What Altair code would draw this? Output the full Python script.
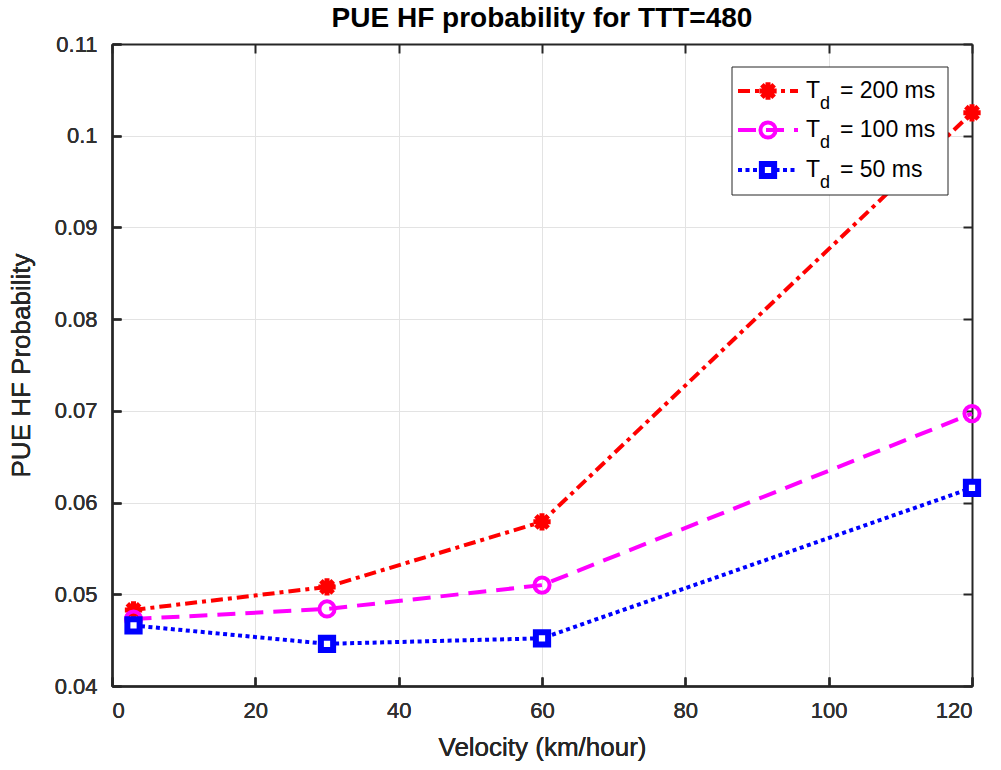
import altair as alt
import pandas as pd

# ---- data ----
velocity = [3, 30, 60, 120]
td200 = [0.0483, 0.0508, 0.0579, 0.1025]
td100 = [0.0473, 0.0484, 0.0510, 0.0697]
td50 = [0.0466, 0.0446, 0.0452, 0.0616]

x_ticks = [0, 20, 40, 60, 80, 100, 120]
y_ticks = [0.04, 0.05, 0.06, 0.07, 0.08, 0.09, 0.10, 0.11]

legend_values = ["200 ms", "100 ms", "50 ms"]

FONT = "Liberation Sans"
W, H = 860, 642

df200 = pd.DataFrame({"v": velocity, "p": td200})
df100 = pd.DataFrame({"v": velocity, "p": td100})
df50 = pd.DataFrame({"v": velocity, "p": td50})

xs = alt.Scale(domain=[0, 120], nice=False, zero=False)
ys = alt.Scale(domain=[0.04, 0.11], nice=False, zero=False)

x_main = alt.X("v:Q", scale=xs, axis=alt.Axis(
    values=x_ticks, title="Velocity (km/hour)", orient="bottom",
    tickSize=alt.ExprRef(expr="-9"), labelPadding=23, titlePadding=13,
    grid=True))
y_main = alt.Y("p:Q", scale=ys, axis=alt.Axis(
    values=y_ticks, title="PUE HF Probability", orient="left",
    tickSize=alt.ExprRef(expr="-9"), labelPadding=24, titlePadding=20,
    labelExpr="datum.value >= 0.0999 && datum.value <= 0.1001 ? '0.1' : (datum.value > 0.105 ? '0.11' : format(datum.value, '.2f'))",
    grid=True))

ASTERISK = "M-1,0L1,0M0,-1L0,1M-0.71,-0.71L0.71,0.71M-0.71,0.71L0.71,-0.71"

def series(df, color, dash, shape, size, filled, fill=None, sw=3.2):
    line = alt.Chart(df).mark_line(color=color, strokeWidth=4, strokeDash=dash).encode(
        x=x_main, y=y_main)
    kw = dict(shape=shape, size=size, stroke=color, strokeWidth=sw, opacity=1)
    if filled:
        kw.update(filled=True, fill=fill if fill else color, fillOpacity=1)
    else:
        kw.update(filled=False)
    pts = alt.Chart(df).mark_point(**kw).encode(x=x_main, y=y_main)
    return line + pts

red = series(df200, "#ff0000", [12, 5, 4, 5], ASTERISK, 300, False, sw=5)
mag = series(df100, "#ff00ff", [18, 10], "circle", 230, False, sw=4)
blue = series(df50, "#0000ff", [4, 3.5], "square", 150, True, fill="#ffffff", sw=6)

# frame: top and right axes with inward ticks
frame = alt.Chart(df200).mark_point(opacity=0).encode(
    x=alt.X("v:Q", scale=xs, axis=alt.Axis(
        values=x_ticks, orient="top", labels=False, title=None, grid=False,
        tickSize=alt.ExprRef(expr="-9"))),
    y=alt.Y("p:Q", scale=ys, axis=alt.Axis(
        values=y_ticks, orient="right", labels=False, title=None, grid=False,
        tickSize=alt.ExprRef(expr="-9"))),
)

# ---- legend (MATLAB style, drawn inside the plot) ----
lx0, lx1, ly0, ly1 = 620, 836, 23, 151
rows_y = [47, 86, 126]
colors = ["#ff0000", "#ff00ff", "#0000ff"]
dashes = [[12, 5, 4, 5], [18, 10], [4, 3.5]]
shapes = [ASTERISK, "circle", "square"]
sizes = [300, 230, 150]

leg_box = alt.Chart(pd.DataFrame({"a": [0]})).mark_rect(
    fill="white", stroke="#262626", strokeWidth=1).encode(
    x=alt.value(lx0), x2=alt.value(lx1), y=alt.value(ly0), y2=alt.value(ly1))

leg_layers = [leg_box]
for i, val in enumerate(legend_values):
    d = pd.DataFrame({"t": [val]})
    yy = rows_y[i]
    leg_layers.append(alt.Chart(d).mark_rule(
        color=colors[i], strokeWidth=4, strokeDash=dashes[i]).encode(
        x=alt.value(626), x2=alt.value(686), y=alt.value(yy)))
    pk = dict(shape=shapes[i], size=sizes[i], stroke=colors[i], opacity=1)
    if i == 2:
        pk.update(filled=True, fill="#ffffff", strokeWidth=6)
    else:
        pk.update(filled=False, strokeWidth=5 if i == 0 else 4)
    leg_layers.append(alt.Chart(d).mark_point(**pk).encode(
        x=alt.value(656), y=alt.value(yy)))
    leg_layers.append(alt.Chart(d).mark_text(
        text="T", font=FONT, fontSize=23, align="left", baseline="middle",
        color="#000000").encode(x=alt.value(694), y=alt.value(yy)))
    leg_layers.append(alt.Chart(d).mark_text(
        text="d", font=FONT, fontSize=18, align="left", baseline="middle",
        color="#000000").encode(x=alt.value(708), y=alt.value(yy + 13)))
    leg_layers.append(alt.Chart(d).mark_text(
        font=FONT, fontSize=23, align="left", baseline="middle",
        color="#000000").encode(x=alt.value(728), y=alt.value(yy),
                                 text=alt.Text("label:N")).transform_calculate(
        label="'= ' + datum.t"))

chart = alt.layer(
    red, mag, blue, frame, *leg_layers
).resolve_axis(x="independent", y="independent").properties(
    width=W, height=H,
    title=alt.Title("PUE HF probability for TTT=480", font=FONT, fontSize=28,
                    fontWeight="bold", color="#000000", anchor="middle", offset=0),
    autosize=alt.AutoSizeParams(type="none"),
    padding={"left": 112, "top": 44, "right": 29, "bottom": 84},
    background="white",
).configure_view(stroke=None).configure_axis(
    labelFont=FONT, labelFontSize=22, labelColor="#303030", labelFontWeight="normal",
    titleFont=FONT, titleFontSize=26, titleColor="#262626", titleFontWeight="normal",
    domainColor="#262626", domainWidth=2, tickColor="#262626", tickWidth=2,
    gridColor="#e3e3e3", gridWidth=1, gridOpacity=1,
)

chart.save("out.html", embed_options={"renderer": "svg", "actions": False})
